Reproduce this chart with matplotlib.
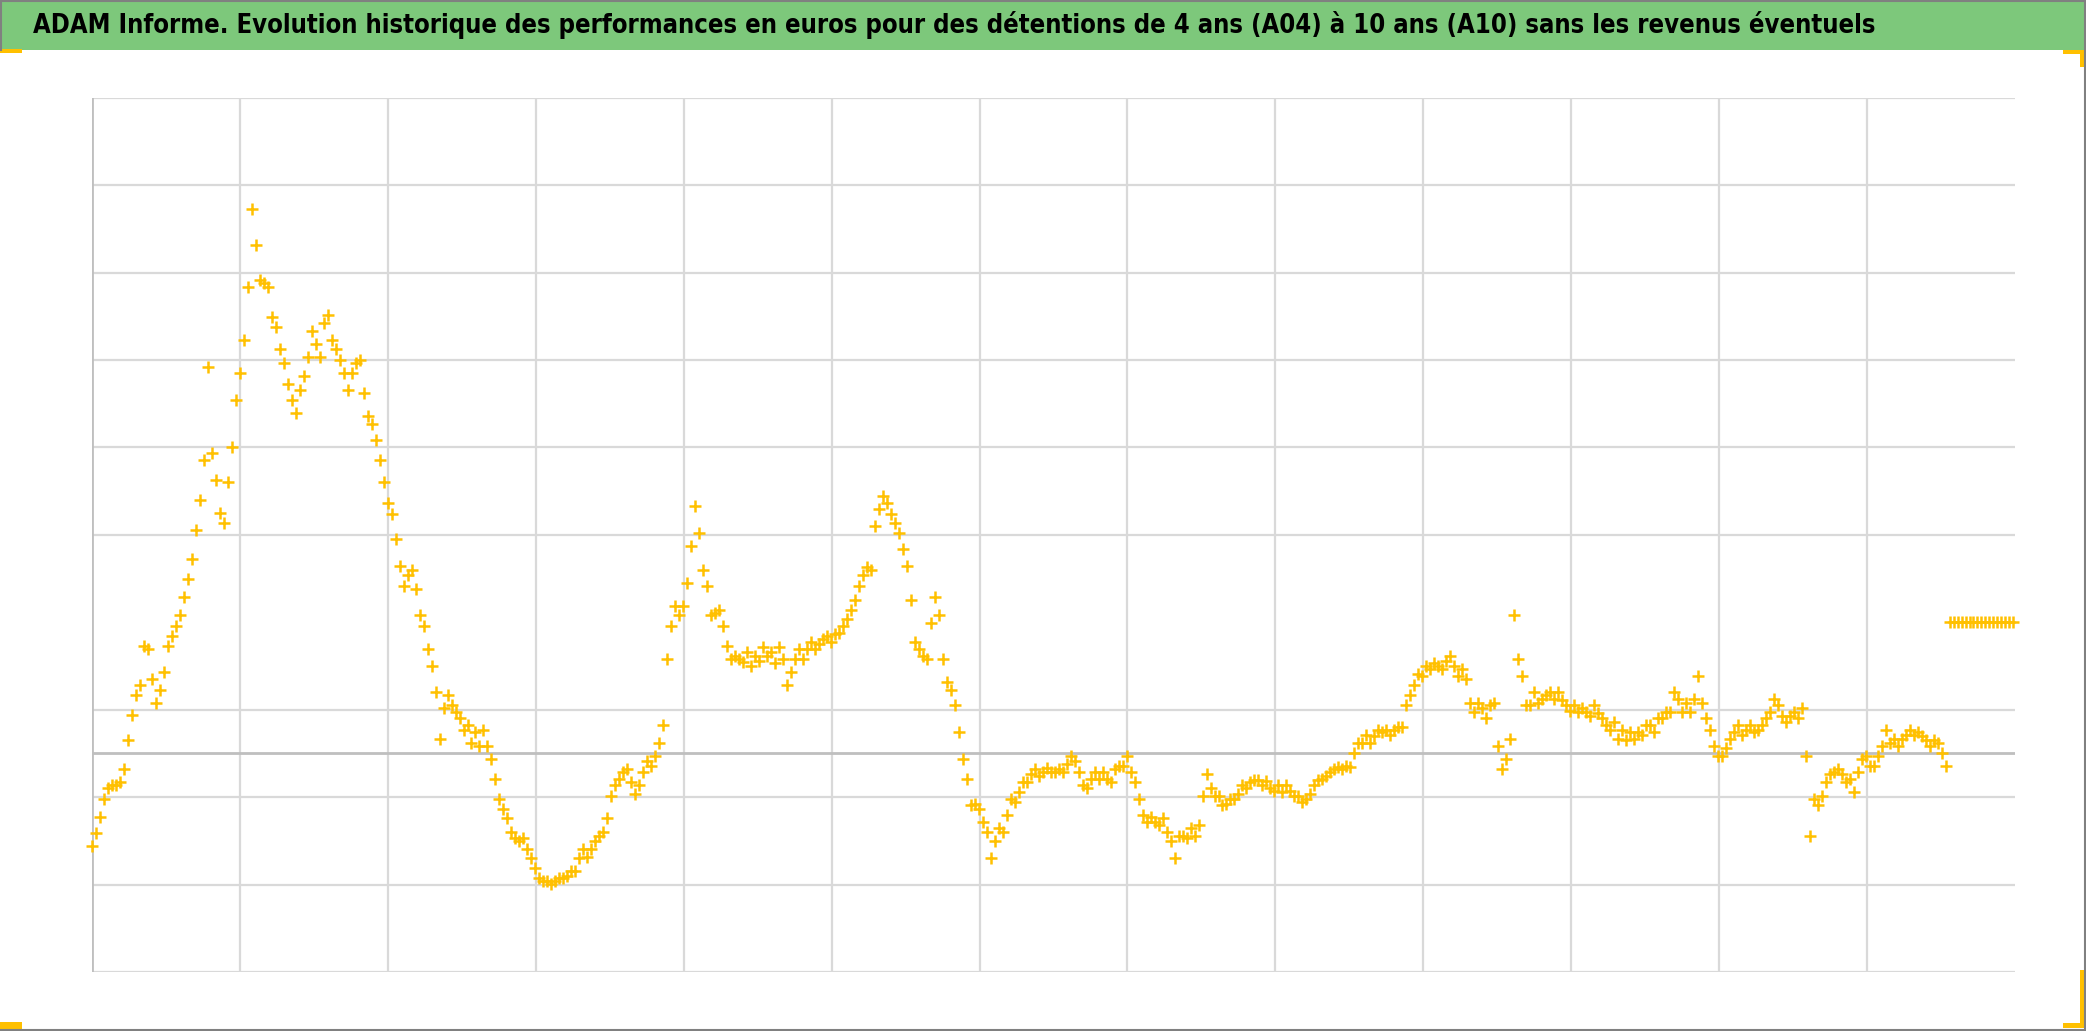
import matplotlib
matplotlib.use("Agg")
import matplotlib.pyplot as plt
import numpy as np
from matplotlib.patches import Rectangle
from matplotlib.lines import Line2D

# performance (%), one point per sampling step
perf = [
    -10.6, -9.1, -7.3, -5.2, -4.0, -3.6, -3.6, -3.3, -1.8, 1.5,
    4.4, 6.7, 7.8, 12.3, 11.9, 8.5, 5.8, 7.3, 9.3, 12.3,
    13.4, 14.6, 15.8, 17.9, 19.9, 22.2, 25.5, 29.0, 33.6, 44.2,
    34.4, 31.3, 27.5, 26.4, 31.0, 35.1, 40.4, 43.5, 47.3, 53.4,
    62.3, 58.1, 54.1, 53.8, 53.4, 49.9, 48.8, 46.2, 44.7, 42.3,
    40.4, 38.9, 41.6, 43.2, 45.3, 48.3, 46.8, 45.3, 49.2, 50.2,
    47.3, 46.2, 45.0, 43.5, 41.6, 43.5, 44.7, 45.0, 41.2, 38.6,
    37.7, 35.9, 33.6, 31.0, 28.6, 27.4, 24.5, 21.4, 19.2, 20.4,
    21.0, 18.8, 15.8, 14.6, 11.9, 10.0, 7.0, 1.7, 5.2, 6.7,
    5.5, 4.7, 4.0, 2.7, 3.2, 1.2, 2.4, 0.9, 2.7, 0.9,
    -0.6, -2.9, -5.2, -6.4, -7.4, -9.0, -9.7, -10.0, -9.7, -10.9,
    -12.0, -13.1, -14.3, -14.6, -14.6, -14.9, -14.6, -14.3, -14.3, -14.0,
    -13.5, -13.5, -12.0, -10.9, -11.9, -10.9, -10.0, -9.4, -9.0, -7.4,
    -4.9, -3.6, -2.9, -2.1, -1.8, -3.3, -4.6, -3.6, -2.1, -0.9,
    -1.4, -0.3, 1.2, 3.2, 10.8, 14.6, 16.9, 15.8, 16.9, 19.5,
    23.7, 28.3, 25.2, 21.0, 19.2, 15.8, 16.1, 16.4, 14.6, 12.3,
    10.8, 11.2, 10.8, 10.5, 11.6, 10.0, 11.1, 10.6, 12.2, 11.2,
    11.6, 10.3, 12.2, 10.8, 7.8, 9.3, 10.8, 11.9, 10.8, 11.9,
    12.8, 11.9, 12.5, 13.1, 13.4, 12.8, 13.7, 13.8, 14.6, 15.4,
    16.4, 17.6, 19.2, 20.4, 21.3, 21.0, 26.0, 28.0, 29.5, 28.6,
    27.4, 26.4, 25.2, 23.4, 21.4, 17.6, 12.8, 11.9, 11.2, 10.8,
    14.9, 17.9, 15.8, 10.8, 8.2, 7.3, 5.5, 2.4, -0.6, -2.9,
    -5.9, -5.8, -6.4, -7.9, -9.0, -12.0, -10.0, -8.5, -9.0, -7.0,
    -5.2, -5.5, -4.4, -3.3, -3.3, -2.4, -1.8, -2.6, -2.1, -1.7,
    -2.1, -2.1, -1.8, -2.1, -1.2, -0.3, -0.9, -2.1, -3.6, -4.0,
    -2.9, -2.1, -2.9, -2.1, -2.9, -3.3, -1.8, -1.4, -1.4, -0.3,
    -2.1, -3.3, -5.2, -7.0, -7.9, -7.3, -7.9, -8.2, -7.4, -9.0,
    -10.0, -12.0, -9.4, -9.4, -9.7, -8.5, -9.4, -8.2, -4.9, -2.4,
    -4.0, -4.9, -4.9, -5.9, -5.8, -5.2, -5.2, -4.6, -3.6, -4.0,
    -3.3, -3.0, -3.0, -3.6, -3.2, -4.0, -4.3, -3.6, -4.4, -3.6,
    -4.3, -4.9, -4.9, -5.5, -5.2, -4.6, -3.6, -3.0, -2.9, -2.6,
    -2.1, -1.8, -1.5, -1.8, -1.4, -1.5, 0.0, 1.2, 1.2, 2.1,
    1.2, 2.0, 2.7, 2.4, 2.7, 2.1, 2.7, 3.0, 3.0, 5.5,
    6.7, 7.8, 9.1, 8.8, 10.0, 9.7, 10.3, 10.0, 9.6, 10.6,
    11.2, 10.0, 8.8, 9.7, 8.5, 5.8, 4.7, 5.8, 5.2, 4.0,
    5.5, 5.8, 0.9, -1.8, -0.6, 1.7, 15.8, 10.8, 8.8, 5.5,
    5.5, 7.0, 5.8, 6.2, 6.7, 7.0, 6.2, 7.0, 6.1, 5.5,
    4.9, 5.5, 4.7, 5.2, 4.7, 4.3, 5.5, 4.6, 4.0, 3.2,
    2.7, 3.6, 1.7, 2.7, 1.5, 2.4, 1.7, 2.4, 2.1, 3.2,
    3.2, 2.4, 4.0, 4.0, 4.7, 4.7, 7.0, 6.2, 4.7, 5.8,
    4.7, 6.2, 8.8, 5.8, 4.0, 2.7, 0.9, -0.3, -0.3, 0.6,
    1.7, 2.4, 3.2, 2.1, 2.7, 3.2, 2.4, 2.7, 3.2, 4.0,
    4.7, 6.2, 5.5, 4.3, 3.6, 4.3, 4.7, 4.0, 5.2, -0.3,
    -9.4, -5.2, -5.9, -4.9, -3.3, -2.4, -2.1, -1.8, -2.4, -3.3,
    -2.9, -4.4, -2.1, -0.6, -0.3, -1.4, -1.4, -0.3, 0.9, 2.7,
    1.2, 1.7, 0.9, 1.7, 2.1, 2.7, 2.1, 2.4, 2.0, 1.5,
    0.9, 1.5, 1.2, 0.0, -1.4,
]
# last known value repeated at the end of the series
flat_value = 15.0
flat_count = 17

n_years = 13
steps_per_year = 37.03
y_min, y_max = -25, 75
grid_levels = [-25, -15, -5, 5, 25, 35, 45, 55, 65, 75]

values = np.array(perf + [flat_value] * flat_count)
x = np.arange(len(values)) + 0.0

W, H = 2086, 1031
fig = plt.figure(figsize=(W / 100, H / 100), dpi=100)
fig.patch.set_facecolor('white')

ax = fig.add_axes([92 / W, 1 - 972 / H, (2015 - 92) / W, (972 - 97.7) / H])
ax.set_xlim(0, n_years * steps_per_year)
ax.set_ylim(y_min, y_max)
for s in ax.spines.values():
    s.set_visible(False)
ax.set_xticks([])
ax.set_yticks([])

grid_col = '#d9d9d9'
for g in grid_levels:
    ax.axhline(g, color=grid_col, lw=1.6, zorder=1)
for k in range(1, n_years):
    ax.axvline(k * steps_per_year, color=grid_col, lw=1.6, zorder=1)
ax.axvline(0, color='#bfbfbf', lw=2, zorder=2)
ax.axhline(0, color='#bfbfbf', lw=2, zorder=2)

ax.plot(x, values, linestyle='none', marker='+', color='#FFC000',
        markersize=8, markeredgewidth=1.8, clip_on=False, zorder=3)

# title band
fig.add_artist(Rectangle((0, 1 - 50 / H), 1, 50 / H, transform=fig.transFigure,
                         facecolor='#7DC87B', edgecolor='none', zorder=0))
fig.text(33 / W, 1 - 25 / H,
         "ADAM Informe. Evolution historique des performances en euros pour des détentions de 4 ans (A04) à 10 ans (A10) sans les revenus éventuels",
         fontsize=18.4, fontweight='bold', fontstretch='condensed',
         family=['DejaVu Sans'], va='center', ha='left', color='black')

# frame lines
border = '#808080'
fig.add_artist(Line2D([0, 1], [1 - 1 / H, 1 - 1 / H], transform=fig.transFigure, color=border, lw=1.5))
fig.add_artist(Line2D([1 - 1 / W, 1 - 1 / W], [0, 1], transform=fig.transFigure, color=border, lw=1.5))
fig.add_artist(Line2D([0, 1], [1 / H, 1 / H], transform=fig.transFigure, color=border, lw=1.5))
fig.add_artist(Line2D([1 / W, 1 / W], [1 - 50 / H, 1], transform=fig.transFigure, color=border, lw=1.5))

# corner marks
gold = '#FFC000'
def px_rect(x0, y0, x1, y1):
    fig.add_artist(Rectangle((x0 / W, 1 - y1 / H), (x1 - x0) / W, (y1 - y0) / H,
                             transform=fig.transFigure, facecolor=gold, edgecolor='none'))

px_rect(0, 49, 22, 53)
px_rect(2063, 50, 2085, 54)
px_rect(2080, 50, 2085, 67)
px_rect(0, 1022, 22, 1029)
px_rect(2080, 970, 2085, 1028)
px_rect(2063, 1023, 2085, 1028)

fig.savefig('out.png', dpi=100)
